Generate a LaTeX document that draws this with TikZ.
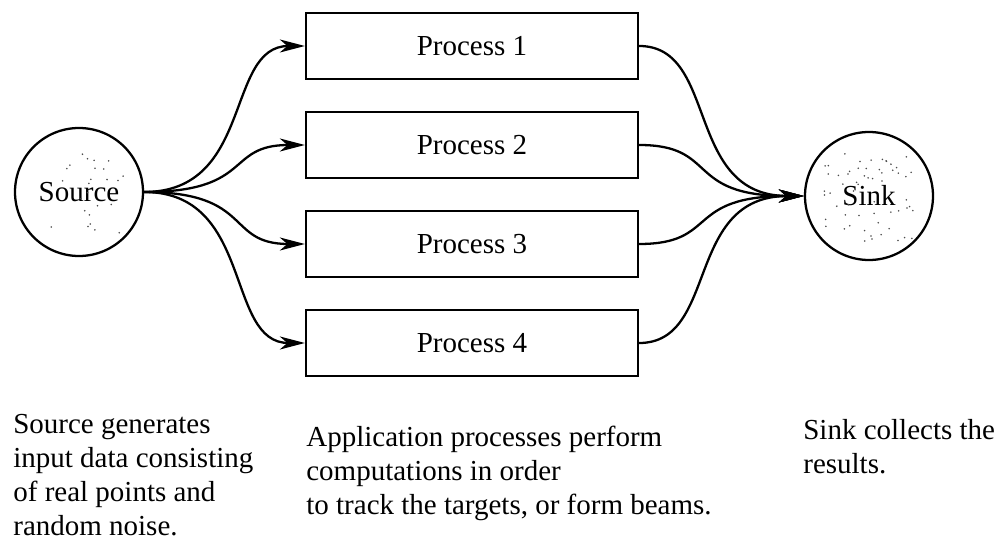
\documentclass[tikz,border=0pt]{standalone}
\usepackage{fontspec}
\setmainfont{Liberation Serif}
\usetikzlibrary{arrows.meta}
\tikzset{
  proc/.style={draw, line width=1.3pt, minimum width=6.64cm, minimum height=1.32cm, inner sep=0pt},
  endpt/.style={draw, circle, line width=1.3pt, minimum size=2.56cm, inner sep=0pt},
  flow/.style={line width=1.3pt, -{Stealth[length=5mm,width=2.6mm,inset=1.5mm]}},
  note/.style={anchor=base west, align=left, inner sep=0pt}
}

\begin{document}
\begin{tikzpicture}[font=\fontsize{16.5}{19.3}\selectfont]
	\useasboundingbox (0,0) rectangle (20,10.82);
	\node [endpt] (src) at (1.58,6.98) {Source};
	\node [endpt] (snk) at (17.38,6.90) {Sink};
	\foreach \i/\y in {1/9.90,2/7.92,3/5.94,4/3.96}
		\node [proc] (p\i) at (9.44,\y) {Process \i};
	
	% stipple in the circles
	\pgfmathsetseed{11}
	\foreach \k in {1,...,25}
		\fill [black!70, shift={(src)}] (rand*0.9,rand*0.9) circle (0.5pt);
	\foreach \k in {1,...,60}
		\fill [black!70, shift={(snk)}] (rand*0.9,rand*0.9) circle (0.5pt);
	
	\foreach \i in {1,...,4} {
		\draw [flow] (src.east) .. controls +(2.2,0) and +(-1.6,0) .. (p\i.west);
		\draw [flow] (p\i.east) .. controls +(1.6,0) and +(-2.4,0) .. (snk.west);
	}
	
	% base anchor sits on the last line
	\node [note] (srcnote) at (0.26,0.12) {Source generates\\input data consisting\\of real points and\\random noise.};
	\node [note] (procnote) at (6.12,0.54) {Application processes perform\\computations in order\\to track the targets, or form beams.};
	\node [note] (snknote) at (16.06,1.36) {Sink collects the\\results.};
\end{tikzpicture}
\end{document}
